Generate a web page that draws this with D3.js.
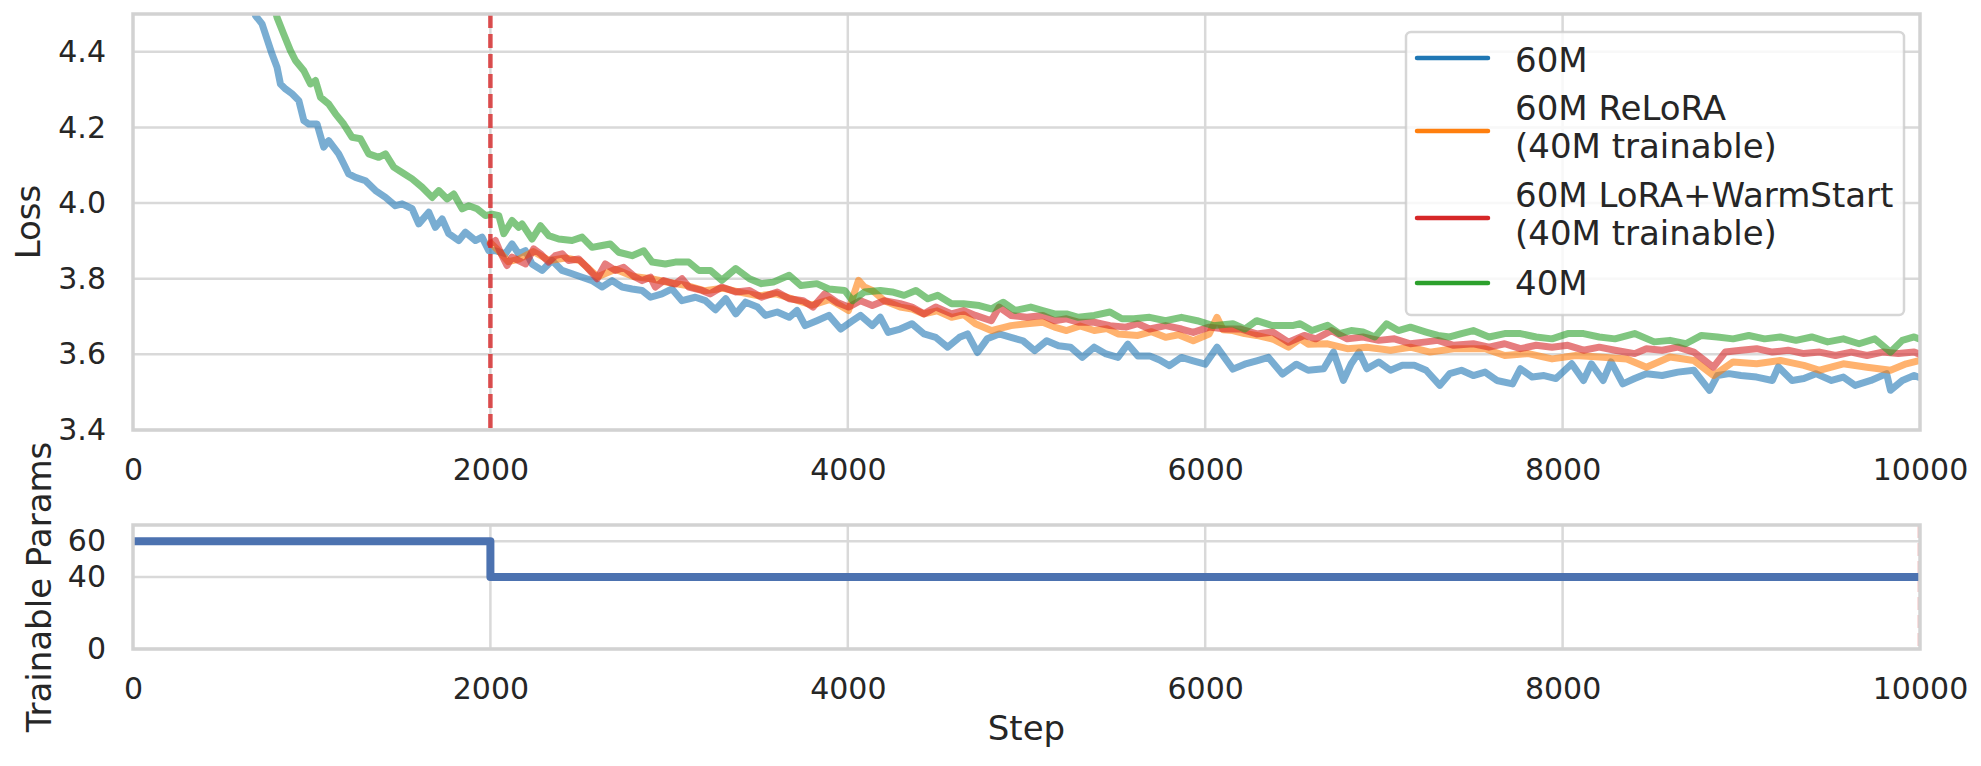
<!DOCTYPE html>
<html>
<head>
<meta charset="utf-8">
<script src="https://cdn.jsdelivr.net/npm/d3@7"></script>
<style>
  body { margin: 0; background: #fff; }
  text { font-family: "DejaVu Sans", sans-serif; fill: #262626; }
</style>
</head>
<body>
<div id="chart"></div>
<script>
// data
var xTicks = [0, 2000, 4000, 6000, 8000, 10000];
var lossTicks = [3.4, 3.6, 3.8, 4.0, 4.2, 4.4];
var paramTicks = [0, 40, 60];

var names = ["60M", "60M ReLoRA\n(40M trainable)", "60M LoRA+WarmStart\n(40M trainable)", "40M"];
var colors = ["#1f77b4", "#ff7f0e", "#d62728", "#2ca02c"];

var steps60M = [620, 685, 722, 778, 806, 825, 853, 890, 928, 956, 984, 1030, 1067, 1095, 1151, 1179, 1207, 1245, 1301, 1357,
  1413, 1468, 1506, 1562, 1599, 1655, 1692, 1730, 1767, 1823, 1860, 1916, 1953, 1991, 2028, 2084, 2121, 2158, 2196, 2233,
  2289, 2345, 2401, 2457, 2513, 2569, 2625, 2681, 2737, 2793, 2849, 2896, 2960, 3016, 3072, 3147, 3203, 3259, 3317, 3373,
  3428, 3495, 3539, 3605, 3672, 3716, 3761, 3827, 3894, 3960, 4027, 4071, 4137, 4182, 4226, 4293, 4359, 4426, 4492, 4559,
  4625, 4670, 4725, 4780, 4847, 4913, 4980, 5046, 5113, 5179, 5246, 5312, 5379, 5445, 5512, 5567, 5623, 5689, 5745, 5800,
  5867, 5933, 6000, 6066, 6155, 6221, 6288, 6354, 6432, 6510, 6576, 6663, 6718, 6773, 6817, 6861, 6905, 6971, 7037, 7103,
  7170, 7236, 7313, 7368, 7434, 7500, 7566, 7632, 7720, 7764, 7830, 7896, 7963, 8051, 8117, 8161, 8227, 8271, 8337, 8403,
  8469, 8557, 8645, 8734, 8822, 8866, 8932, 8998, 9086, 9174, 9207, 9284, 9350, 9417, 9505, 9571, 9637, 9725, 9813, 9835,
  9901, 9967, 10000];
var loss60M = [4.60, 4.496, 4.474, 4.394, 4.359, 4.315, 4.302, 4.289, 4.271, 4.218, 4.209, 4.209, 4.148, 4.165, 4.130, 4.104, 4.077, 4.068, 4.059, 4.033,
  4.015, 3.993, 3.998, 3.985, 3.945, 3.976, 3.936, 3.958, 3.919, 3.901, 3.923, 3.901, 3.910, 3.874, 3.874, 3.866, 3.892, 3.866, 3.874, 3.839,
  3.822, 3.848, 3.822, 3.813, 3.804, 3.795, 3.778, 3.795, 3.778, 3.773, 3.769, 3.751, 3.760, 3.773, 3.742, 3.751, 3.742, 3.718, 3.747, 3.707,
  3.738, 3.725, 3.703, 3.712, 3.698, 3.716, 3.676, 3.689, 3.703, 3.667, 3.689, 3.703, 3.676, 3.698, 3.658, 3.667, 3.681, 3.654, 3.645, 3.619,
  3.645, 3.654, 3.605, 3.641, 3.654, 3.645, 3.636, 3.610, 3.636, 3.623, 3.619, 3.592, 3.619, 3.601, 3.592, 3.627, 3.596, 3.596, 3.585, 3.570,
  3.592, 3.583, 3.574, 3.619, 3.561, 3.574, 3.583, 3.592, 3.548, 3.574, 3.558, 3.562, 3.606, 3.531, 3.575, 3.606, 3.562, 3.580, 3.558, 3.571,
  3.571, 3.558, 3.518, 3.549, 3.558, 3.544, 3.553, 3.531, 3.522, 3.562, 3.540, 3.544, 3.536, 3.575, 3.531, 3.575, 3.531, 3.580, 3.522, 3.536,
  3.549, 3.544, 3.553, 3.558, 3.505, 3.544, 3.549, 3.544, 3.540, 3.531, 3.567, 3.531, 3.536, 3.549, 3.531, 3.540, 3.518, 3.531, 3.549, 3.505,
  3.531, 3.544, 3.538];

var stepsReLoRA = [2000, 2050, 2100, 2160, 2240, 2330, 2420, 2500, 2600, 2700, 2800, 2900, 3000, 3100, 3200, 3300, 3400, 3500, 3600, 3700,
  3800, 3900, 4004, 4060, 4093, 4137, 4204, 4293, 4360, 4426, 4500, 4581, 4650, 4714, 4803, 4913, 5002, 5091, 5157, 5224,
  5300, 5379, 5450, 5512, 5623, 5700, 5778, 5850, 5933, 6022, 6066, 6100, 6155, 6220, 6288, 6380, 6466, 6531, 6576, 6685,
  6795, 6905, 7037, 7148, 7258, 7390, 7566, 7676, 7808, 7941, 8073, 8205, 8359, 8469, 8601, 8734, 8844, 8954, 9086, 9218,
  9350, 9438, 9571, 9703, 9835, 9923, 10000];
var lossReLoRA = [3.895, 3.872, 3.845, 3.852, 3.872, 3.848, 3.855, 3.848, 3.805, 3.825, 3.806, 3.800, 3.790, 3.782, 3.768, 3.775, 3.764, 3.755, 3.760, 3.745,
  3.730, 3.745, 3.716, 3.796, 3.778, 3.769, 3.742, 3.725, 3.720, 3.707, 3.715, 3.698, 3.705, 3.681, 3.663, 3.676, 3.681, 3.685, 3.672, 3.663,
  3.675, 3.663, 3.668, 3.654, 3.650, 3.660, 3.645, 3.652, 3.636, 3.654, 3.698, 3.665, 3.663, 3.655, 3.650, 3.640, 3.619, 3.641, 3.627, 3.628,
  3.615, 3.619, 3.611, 3.619, 3.606, 3.615, 3.615, 3.597, 3.602, 3.588, 3.597, 3.593, 3.588, 3.566, 3.593, 3.584, 3.544, 3.580, 3.575, 3.584,
  3.571, 3.558, 3.575, 3.566, 3.558, 3.575, 3.584];

var stepsWarm = [2000, 2028, 2056, 2093, 2121, 2158, 2196, 2242, 2280, 2326, 2363, 2401, 2438, 2494, 2541, 2597, 2643, 2699, 2746, 2811,
  2849, 2896, 2923, 2970, 3035, 3072, 3110, 3184, 3229, 3295, 3373, 3450, 3517, 3605, 3672, 3750, 3805, 3871, 3938, 4004,
  4071, 4137, 4204, 4293, 4359, 4426, 4492, 4581, 4647, 4714, 4803, 4847, 4913, 5002, 5091, 5157, 5224, 5290, 5379, 5467,
  5556, 5623, 5689, 5778, 5867, 5933, 6022, 6111, 6199, 6288, 6377, 6466, 6554, 6619, 6707, 6795, 6883, 6971, 7059, 7148,
  7236, 7302, 7390, 7500, 7588, 7676, 7764, 7852, 7941, 8029, 8117, 8205, 8293, 8403, 8469, 8557, 8645, 8734, 8844, 8910,
  8998, 9086, 9174, 9262, 9350, 9438, 9527, 9615, 9703, 9791, 9879, 9967, 10000];
var lossWarm = [3.892, 3.901, 3.870, 3.835, 3.857, 3.848, 3.839, 3.879, 3.866, 3.844, 3.861, 3.866, 3.848, 3.852, 3.830, 3.800, 3.839, 3.822, 3.830, 3.804,
  3.795, 3.804, 3.778, 3.795, 3.786, 3.800, 3.778, 3.769, 3.760, 3.778, 3.765, 3.769, 3.751, 3.765, 3.747, 3.742, 3.725, 3.760, 3.738, 3.725,
  3.742, 3.729, 3.742, 3.734, 3.725, 3.707, 3.725, 3.707, 3.716, 3.703, 3.689, 3.725, 3.703, 3.698, 3.703, 3.689, 3.694, 3.685, 3.685, 3.676,
  3.672, 3.681, 3.667, 3.676, 3.667, 3.658, 3.672, 3.667, 3.667, 3.654, 3.659, 3.632, 3.650, 3.641, 3.663, 3.641, 3.646, 3.637, 3.641, 3.628,
  3.633, 3.637, 3.624, 3.628, 3.619, 3.628, 3.615, 3.624, 3.619, 3.624, 3.611, 3.619, 3.611, 3.602, 3.615, 3.611, 3.619, 3.606, 3.566, 3.606,
  3.611, 3.615, 3.606, 3.611, 3.602, 3.606, 3.597, 3.606, 3.597, 3.606, 3.602, 3.606, 3.600];

var steps40M = [740, 806, 843, 881, 909, 956, 993, 1021, 1049, 1095, 1133, 1179, 1226, 1273, 1319, 1375, 1413, 1459, 1506, 1562,
  1618, 1674, 1711, 1758, 1795, 1842, 1879, 1925, 1972, 2009, 2047, 2075, 2121, 2158, 2177, 2233, 2280, 2326, 2382, 2457,
  2513, 2569, 2625, 2671, 2718, 2793, 2858, 2905, 2979, 3035, 3110, 3166, 3231, 3295, 3373, 3450, 3517, 3583, 3672, 3738,
  3827, 3894, 3982, 4027, 4093, 4182, 4248, 4315, 4381, 4448, 4503, 4581, 4647, 4736, 4803, 4869, 4936, 5024, 5091, 5157,
  5224, 5290, 5379, 5467, 5534, 5600, 5689, 5778, 5867, 5955, 6044, 6155, 6221, 6288, 6377, 6488, 6531, 6597, 6685, 6751,
  6817, 6883, 6949, 7015, 7081, 7148, 7236, 7302, 7368, 7434, 7500, 7588, 7676, 7764, 7852, 7941, 8029, 8117, 8205, 8293,
  8403, 8513, 8601, 8689, 8777, 8866, 8954, 9042, 9130, 9218, 9306, 9394, 9483, 9571, 9659, 9747, 9835, 9901, 9967, 10000];
var loss40M = [4.60, 4.491, 4.447, 4.403, 4.377, 4.350, 4.315, 4.324, 4.280, 4.262, 4.236, 4.209, 4.174, 4.170, 4.130, 4.121, 4.130, 4.095, 4.081, 4.064,
  4.042, 4.015, 4.033, 4.011, 4.024, 3.985, 3.993, 3.985, 3.967, 3.971, 3.967, 3.919, 3.954, 3.936, 3.945, 3.905, 3.940, 3.914, 3.905, 3.901,
  3.910, 3.883, 3.888, 3.892, 3.870, 3.861, 3.874, 3.844, 3.839, 3.844, 3.844, 3.822, 3.822, 3.796, 3.827, 3.800, 3.787, 3.791, 3.809, 3.782,
  3.787, 3.773, 3.769, 3.742, 3.765, 3.769, 3.765, 3.756, 3.769, 3.747, 3.756, 3.734, 3.734, 3.729, 3.720, 3.738, 3.716, 3.725, 3.716, 3.707,
  3.707, 3.698, 3.703, 3.712, 3.694, 3.694, 3.698, 3.689, 3.698, 3.689, 3.676, 3.681, 3.667, 3.689, 3.676, 3.676, 3.681, 3.663, 3.677, 3.655,
  3.663, 3.659, 3.646, 3.681, 3.663, 3.672, 3.659, 3.650, 3.646, 3.655, 3.663, 3.646, 3.655, 3.655, 3.646, 3.641, 3.655, 3.655, 3.646, 3.641,
  3.655, 3.633, 3.637, 3.628, 3.650, 3.646, 3.641, 3.650, 3.641, 3.646, 3.637, 3.646, 3.633, 3.641, 3.628, 3.641, 3.606, 3.637, 3.646, 3.640];

// trainable params (millions), step function
var paramSteps = [0, 2000, 10000];
var paramValues = [60, 40, 40];

var seriesSteps = [steps60M, stepsReLoRA, stepsWarm, steps40M];
var seriesLoss = [loss60M, lossReLoRA, lossWarm, loss40M];

var svgWidth = 1981, svgHeight = 766;
var left = 133, right = 1920;
var top1 = 14, bottom1 = 430;
var top2 = 525, bottom2 = 649;

var svg = d3.select("#chart").append("svg")
    .attr("width", svgWidth)
    .attr("height", svgHeight);

var x = d3.scaleLinear().domain([0, 10000]).range([left, right]);
var yLoss = d3.scaleLinear().domain([3.4, 4.5]).range([bottom1, top1]);
var yParam = d3.scaleLinear().domain([0, 69]).range([bottom2, top2]);

var gridColor = "#d9d9d9";
var spineColor = "#d2d2d2";

function drawPanel(y, yt, top, bottom, fmt, id) {
    var g = svg.append("g");
    // grid
    g.append("g").selectAll("line").data(xTicks.slice(1, -1)).enter().append("line")
        .attr("x1", d => x(d)).attr("x2", d => x(d))
        .attr("y1", top).attr("y2", bottom)
        .attr("stroke", gridColor).attr("stroke-width", 2.5);
    g.append("g").selectAll("line").data(yt).enter().append("line")
        .attr("x1", left).attr("x2", right)
        .attr("y1", d => y(d)).attr("y2", d => y(d))
        .attr("stroke", gridColor).attr("stroke-width", 2.5);

    // axes
    var xAxis = d3.axisBottom(x).tickValues(xTicks).tickSize(0).tickPadding(29).tickFormat(d3.format("d"));
    var gx = g.append("g").attr("transform", `translate(0, ${bottom})`).call(xAxis);
    gx.select(".domain").remove();
    gx.selectAll("text").attr("font-size", "30px").attr("font-family", "DejaVu Sans");

    var yAxis = d3.axisLeft(y).tickValues(yt).tickSize(0).tickPadding(27).tickFormat(fmt);
    var gy = g.append("g").attr("transform", `translate(${left}, 0)`).call(yAxis);
    gy.select(".domain").remove();
    gy.selectAll("text").attr("font-size", "30px").attr("font-family", "DejaVu Sans");

    g.append("clipPath").attr("id", id).append("rect")
        .attr("x", left).attr("y", top).attr("width", right - left).attr("height", bottom - top);
    return g;
}

var g1 = drawPanel(yLoss, lossTicks, top1, bottom1, d3.format(".1f"), "clip1");
var g2 = drawPanel(yParam, paramTicks, top2, bottom2, d3.format("d"), "clip2");

// loss curves
var lossLine = d3.line()
    .x(d => x(d[0]))
    .y(d => yLoss(d[1]));

var curves = g1.append("g").attr("clip-path", "url(#clip1)");
seriesSteps.forEach(function(st, i) {
    var pts = st.map((s, j) => [s, seriesLoss[i][j]]);
    curves.append("path")
        .datum(pts)
        .attr("d", lossLine)
        .attr("fill", "none")
        .attr("stroke", colors[i])
        .attr("stroke-opacity", 0.6)
        .attr("stroke-width", 7)
        .attr("stroke-linejoin", "round")
        .attr("stroke-linecap", "round");
});

// restart marker
g1.append("line")
    .attr("x1", x(2000)).attr("x2", x(2000))
    .attr("y1", top1).attr("y2", bottom1)
    .attr("stroke", "#d62728").attr("stroke-opacity", 0.8)
    .attr("stroke-width", 4.5).attr("stroke-dasharray", "14,6");

// params step line
var paramLine = d3.line()
    .x(d => x(d[0]))
    .y(d => yParam(d[1]))
    .curve(d3.curveStepAfter);

g2.append("line")
    .attr("x1", x(10000) - 1.5).attr("x2", x(10000) - 1.5)
    .attr("y1", top2).attr("y2", bottom2)
    .attr("stroke", "#d62728").attr("stroke-opacity", 0.3)
    .attr("stroke-width", 2).attr("stroke-dasharray", "13,5");

g2.append("g").attr("clip-path", "url(#clip2)").append("path")
    .datum(paramSteps.map((s, j) => [s, paramValues[j]]))
    .attr("d", paramLine)
    .attr("fill", "none")
    .attr("stroke", "#4c72b0")
    .attr("stroke-width", 8)
    .attr("stroke-linejoin", "round");

// spines
[[top1, bottom1], [top2, bottom2]].forEach(function(p) {
    svg.append("rect")
        .attr("x", left).attr("y", p[0])
        .attr("width", right - left).attr("height", p[1] - p[0])
        .attr("fill", "none")
        .attr("stroke", spineColor).attr("stroke-width", 3.5);
});

// legend
var legend = svg.append("g");
legend.append("rect")
    .attr("x", 1406).attr("y", 32)
    .attr("width", 498).attr("height", 283)
    .attr("rx", 5)
    .attr("fill", "#fff").attr("fill-opacity", 0.8)
    .attr("stroke", "#cccccc").attr("stroke-opacity", 0.8).attr("stroke-width", 2.5);

var handleY = [58, 131, 218, 283];
var textY = [[72], [120, 158], [207, 245], [295]];
names.forEach(function(n, i) {
    legend.append("line")
        .attr("x1", 1417).attr("x2", 1488)
        .attr("y1", handleY[i]).attr("y2", handleY[i])
        .attr("stroke", colors[i]).attr("stroke-width", 4.5)
        .attr("stroke-linecap", "round");
    n.split("\n").forEach(function(line, k) {
        legend.append("text")
            .attr("x", 1515).attr("y", textY[i][k])
            .attr("font-size", "34px")
            .text(line);
    });
});

// axis titles
svg.append("text")
    .attr("transform", `translate(40, ${(top1 + bottom1) / 2}) rotate(-90)`)
    .attr("text-anchor", "middle")
    .attr("font-size", "34px")
    .text("Loss");

svg.append("text")
    .attr("transform", `translate(51, ${(top2 + bottom2) / 2}) rotate(-90)`)
    .attr("text-anchor", "middle")
    .attr("font-size", "34px")
    .text("Trainable Params");

svg.append("text")
    .attr("x", (left + right) / 2).attr("y", 740)
    .attr("text-anchor", "middle")
    .attr("font-size", "34px")
    .text("Step");
</script>
</body>
</html>
